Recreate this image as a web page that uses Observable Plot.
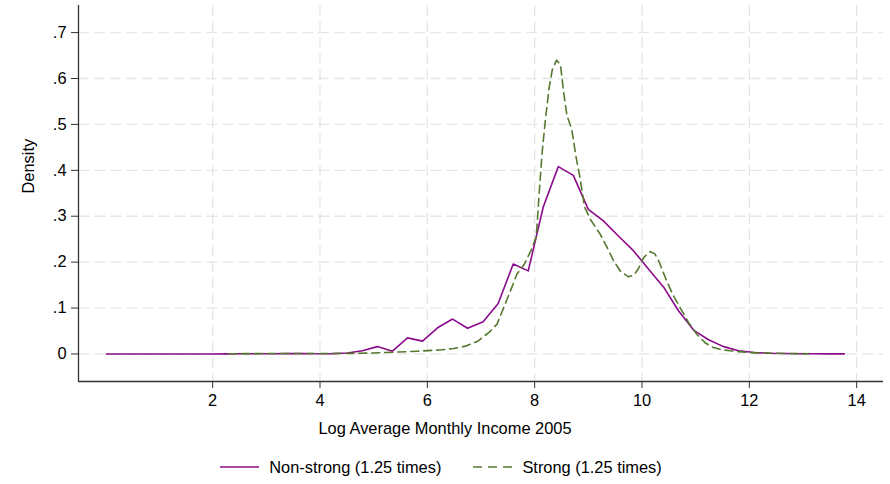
<!DOCTYPE html>
<html>
<head>
<meta charset="utf-8">
<script src="https://cdn.jsdelivr.net/npm/d3@7"></script>
<script src="https://cdn.jsdelivr.net/npm/@observablehq/plot@0.6"></script>
<style>
  body { margin: 0; background: #fff; font-family: "Liberation Sans", Arial, Helvetica, sans-serif; }
  #chart { width: 890px; }
  .legend { display: flex; justify-content: center; align-items: center; height: 24px; margin-top: 10px; padding-right: 8px; font-size: 16.4px; color: #000; }
  .legend .item { display: flex; align-items: center; margin: 0 16px; }
  .legend svg { margin-right: 10px; }
</style>
</head>
<body>
<div id="chart"></div>
<script>
// Kernel density of log average monthly income (2005), by group
const nonStrongX = [0.02, 0.30, 0.58, 0.86, 1.14, 1.42, 1.70, 1.98, 2.26, 2.55,
  2.83, 3.11, 3.39, 3.67, 3.95, 4.23, 4.51, 4.79, 5.07, 5.35,
  5.63, 5.91, 6.19, 6.47, 6.75, 7.04, 7.32, 7.60, 7.88, 8.16,
  8.44, 8.72, 9.00, 9.28, 9.56, 9.84, 10.12, 10.40, 10.68, 10.96,
  11.24, 11.52, 11.80, 12.09, 12.37, 12.65, 12.93, 13.21, 13.49, 13.77];
const nonStrongY = [0, 0, 0, 0, 0, 0, 0, 0, 0.0002, 0.0003,
  0.0004, 0.0006, 0.0008, 0.0008, 0.0006, 0.0008, 0.002, 0.007, 0.016, 0.006,
  0.035, 0.028, 0.057, 0.076, 0.056, 0.070, 0.110, 0.196, 0.181, 0.320,
  0.408, 0.389, 0.315, 0.290, 0.257, 0.225, 0.185, 0.146, 0.094, 0.052,
  0.031, 0.016, 0.007, 0.003, 0.0015, 0.001, 0.0005, 0.0003, 0.0002, 0.0001];

const strongX = [2.30, 2.74, 3.18, 3.62, 4.06, 4.50, 4.94, 5.39, 5.83, 6.27,
  6.49, 6.71, 6.93, 7.15, 7.30, 7.42, 7.55, 7.67, 7.81, 7.93,
  8.03, 8.09, 8.14, 8.20, 8.27, 8.33, 8.41, 8.48, 8.54, 8.60,
  8.69, 8.77, 8.85, 8.93, 9.04, 9.22, 9.35, 9.47, 9.60, 9.75,
  9.85, 9.93, 10.03, 10.15, 10.24, 10.31, 10.46, 10.58, 10.71, 10.87,
  11.02, 11.18, 11.33, 11.49, 11.64, 11.80, 12.00, 12.30, 12.70, 13.10];
const strongY = [0.0005, 0.0008, 0.001, 0.001, 0.001, 0.001, 0.002, 0.004, 0.006, 0.009,
  0.012, 0.017, 0.027, 0.047, 0.065, 0.100, 0.138, 0.174, 0.196, 0.225,
  0.255, 0.360, 0.440, 0.510, 0.580, 0.620, 0.640, 0.630, 0.570, 0.520,
  0.490, 0.430, 0.380, 0.320, 0.293, 0.261, 0.232, 0.203, 0.180, 0.168,
  0.172, 0.185, 0.210, 0.223, 0.218, 0.203, 0.159, 0.128, 0.101, 0.068,
  0.043, 0.024, 0.014, 0.009, 0.007, 0.005, 0.003, 0.002, 0.001, 0.0005];

const seriesNames = ["Non-strong (1.25 times)", "Strong (1.25 times)"];
const seriesColors = ["#8b0a8b", "#55792f"];
const xTicks = [2, 4, 6, 8, 10, 12, 14];
const yTicks = [0, 0.1, 0.2, 0.3, 0.4, 0.5, 0.6, 0.7];
const xTitle = "Log Average Monthly Income 2005";
const yTitle = "Density";

const nonStrong = nonStrongX.map((x, i) => ({x, y: nonStrongY[i]}));
const strong = strongX.map((x, i) => ({x, y: strongY[i]}));

const yFmt = d => d === 0 ? "0" : d3.format(".1f")(d).replace(/^0/, "");
const gridStyle = {stroke: "#e6e6e6", strokeOpacity: 1, strokeWidth: 1.3, strokeDasharray: "11,5"};

const chart = Plot.plot({
  width: 890,
  height: 445,
  marginLeft: 78,
  marginRight: 7,
  marginTop: 5,
  marginBottom: 64,
  style: {fontFamily: "'Liberation Sans', Arial, Helvetica, sans-serif", fontSize: "16.4px", color: "#000", background: "#fff"},
  x: {domain: [-0.5, 14.5]},
  y: {domain: [-0.06, 0.759]},
  marks: [
    Plot.gridX(xTicks, gridStyle),
    Plot.gridY(yTicks, gridStyle),
    Plot.ruleX([-0.5], {stroke: "#333", strokeWidth: 1.3}),
    Plot.ruleY([-0.06], {stroke: "#333", strokeWidth: 1.3}),
    Plot.axisY(yTicks, {tickSize: 7, tickPadding: 5, tickFormat: yFmt, stroke: "#333", label: null, fontSize: 16.4}),
    Plot.axisX(xTicks, {tickSize: 7, tickPadding: 6, tickFormat: d3.format("d"), stroke: "#333", label: null, fontSize: 16.4}),
    // axis titles, centred like the original layout
    Plot.text([xTitle], {frameAnchor: "bottom", lineAnchor: "bottom", dx: -36, dy: 52, fontSize: 16.4, fill: "#000"}),
    Plot.text([yTitle], {frameAnchor: "left", lineAnchor: "bottom", rotate: -90, dx: -45, fontSize: 16.4, fill: "#000"}),
    Plot.line(nonStrong, {x: "x", y: "y", stroke: seriesColors[0], strokeWidth: 1.6}),
    Plot.line(strong, {x: "x", y: "y", stroke: seriesColors[1], strokeWidth: 1.6, strokeDasharray: "8,5"})
  ]
});
document.getElementById("chart").appendChild(chart);

// Legend below the plot
const legend = d3.select("#chart").append("div").attr("class", "legend");
seriesNames.forEach((name, i) => {
  const item = legend.append("div").attr("class", "item");
  const sw = item.append("svg").attr("width", 39).attr("height", 10);
  sw.append("line").attr("x1", 0).attr("x2", 39).attr("y1", 5).attr("y2", 5)
    .attr("stroke", seriesColors[i]).attr("stroke-width", 1.6)
    .attr("stroke-dasharray", i === 1 ? "9,6" : null);
  item.append("span").text(name);
});
</script>
</body>
</html>
